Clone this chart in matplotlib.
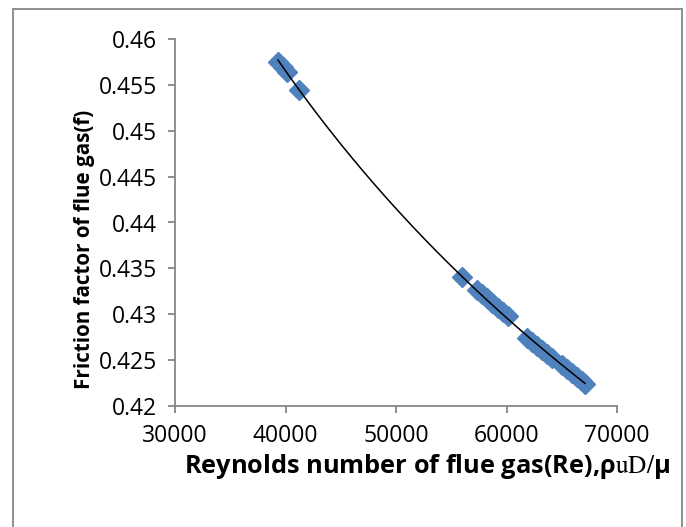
import numpy as np
import matplotlib
matplotlib.use("Agg")
import matplotlib.pyplot as plt
from matplotlib.patches import Rectangle

# Données
reynolds = [39322, 39774, 40136, 41222,
            55974, 57331, 57784, 58236, 58689, 59232, 59684, 60137,
            61856, 62309, 62761, 63214, 63666, 64119,
            65024, 65476, 65929, 66381, 66834, 67105]
friction = [0.45747, 0.45693, 0.45638, 0.45442,
            0.43405, 0.43264, 0.43220, 0.43176, 0.43122, 0.43067, 0.43024, 0.42980,
            0.42741, 0.42697, 0.42654, 0.42610, 0.42566, 0.42523,
            0.42447, 0.42403, 0.42359, 0.42316, 0.42272, 0.42240]
xticks = [30000, 40000, 50000, 60000, 70000]
yticks = [0.42, 0.425, 0.43, 0.435, 0.44, 0.445, 0.45, 0.455, 0.46]
ytick_labels = ["0.42", "0.425", "0.43", "0.435", "0.44", "0.445", "0.45", "0.455", "0.46"]

plt.rcParams['font.family'] = ['Open Sans', 'DejaVu Sans']
plt.rcParams['mathtext.fontset'] = 'stix'

GRIS = '#868686'
BLEU = '#4F81BD'

fig = plt.figure(figsize=(6.86, 5.27), dpi=100)
ax = fig.add_axes([175/686, 1-406/527, (617-175)/686, (406-39)/527])

x = np.array(reynolds, dtype=float)
y = np.array(friction, dtype=float)

ax.plot(x, y, linestyle='none', marker='D', markersize=10,
        color=BLEU, markeredgecolor=BLEU)

# Courbe de tendance (puissance)
b, log_a = np.polyfit(np.log(x), np.log(y), 1)
xt = np.linspace(x.min(), x.max(), 300)
ax.plot(xt, np.exp(log_a) * xt**b, color='black', linewidth=1.1)

ax.set_xlim(30000, 70000)
ax.set_ylim(0.42, 0.46)
ax.set_xticks(xticks)
ax.set_yticks(yticks)
ax.set_yticklabels(ytick_labels)

for side in ['top', 'right']:
    ax.spines[side].set_visible(False)
for side in ['left', 'bottom']:
    ax.spines[side].set_color(GRIS)
    ax.spines[side].set_linewidth(1.3)
ax.tick_params(direction='out', length=5, width=1.3, color=GRIS,
               labelsize=16.5, labelcolor='black', pad=8)

ax.set_ylabel("Friction factor of flue gas(f)", fontsize=14.9,
              fontweight='bold', va='center')
ax.yaxis.set_label_coords(-0.204, 0.428)
ax.set_xlabel(r"Reynolds number of flue gas(Re),ρ$\mathrm{uD}/$μ",
              fontsize=18.3, fontweight='bold', va='center')
ax.xaxis.set_label_coords(0.571, -0.166)

# Cadre du graphique
fig.add_artist(Rectangle((13/686, -0.05), (682-13)/686, 1.05 - 9/527,
                         transform=fig.transFigure, fill=False,
                         edgecolor=GRIS, linewidth=1.3))

fig.savefig("out.png", dpi=100)
